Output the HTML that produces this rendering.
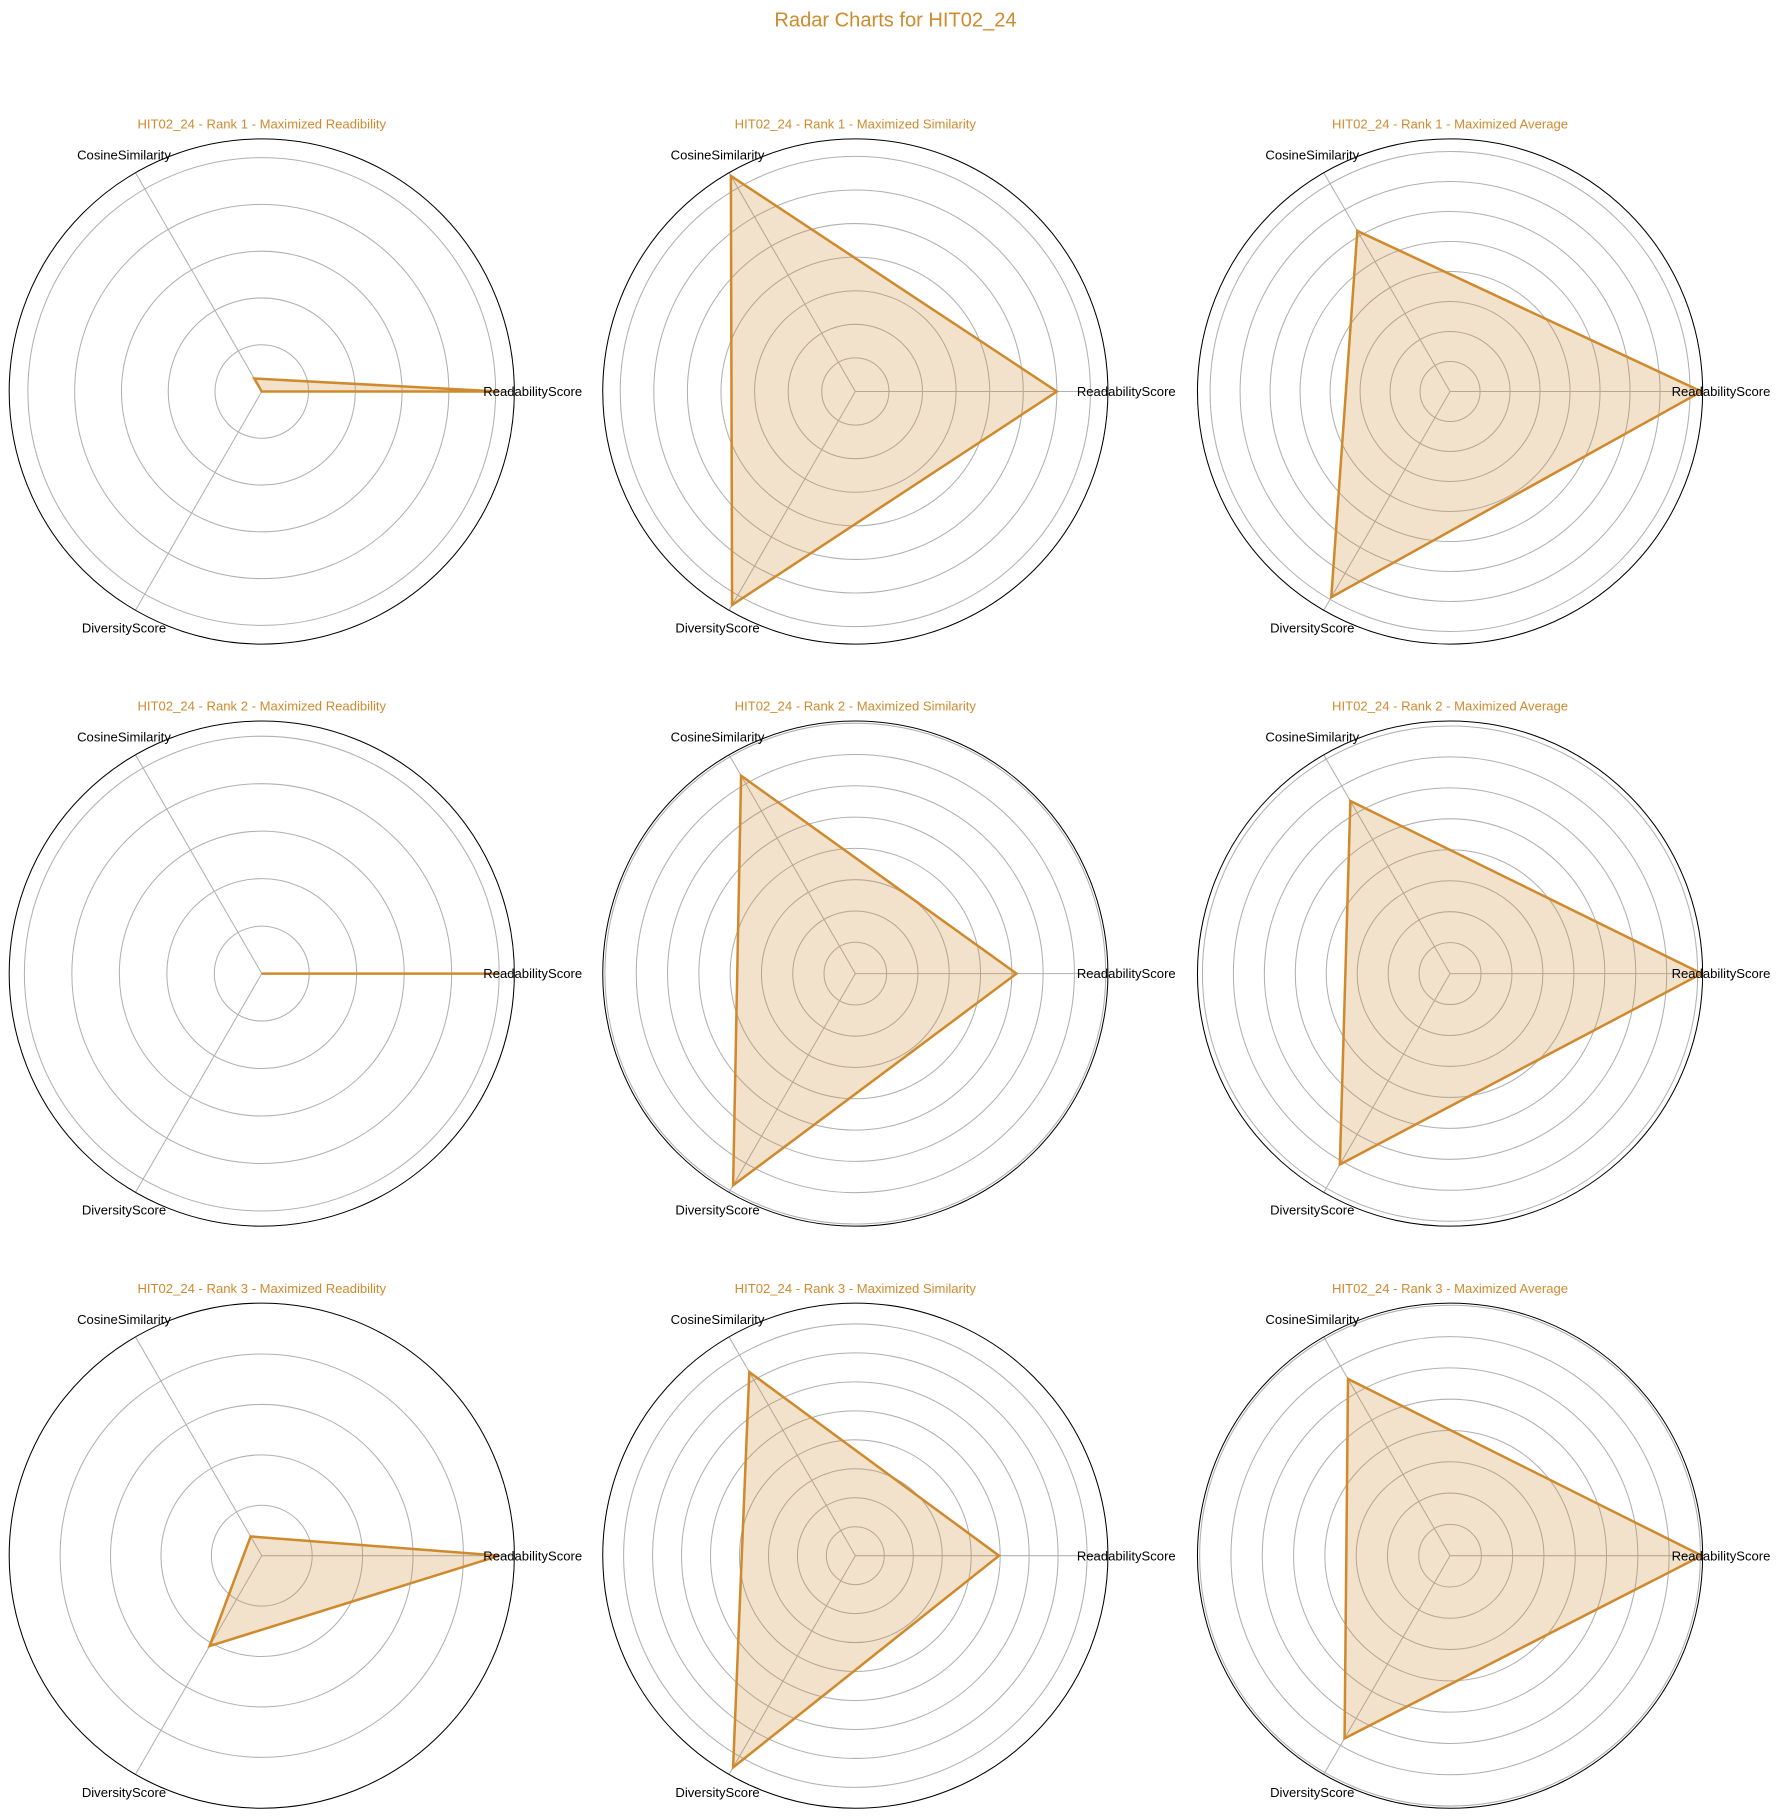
<!DOCTYPE html>
<html><head><meta charset="utf-8"><style>
body{margin:0;background:#fff;}
svg{display:block;font-family:"Liberation Sans","DejaVu Sans",sans-serif;}
</style></head><body>
<svg id="chart" width="1791" height="1818" viewBox="0 0 1791 1818" xmlns="http://www.w3.org/2000/svg">
<g id="root" transform="scale(1.1481)">
<text x="780" y="23" text-anchor="middle" font-size="17.5" fill="#D08A2E">Radar Charts for HIT02_24</text>
</g>
</svg>
<script>
const categories = ["ReadabilityScore", "CosineSimilarity", "DiversityScore"];
const chartTitles = [
 "HIT02_24 - Rank 1 - Maximized Readibility","HIT02_24 - Rank 1 - Maximized Similarity","HIT02_24 - Rank 1 - Maximized Average",
 "HIT02_24 - Rank 2 - Maximized Readibility","HIT02_24 - Rank 2 - Maximized Similarity","HIT02_24 - Rank 2 - Maximized Average",
 "HIT02_24 - Rank 3 - Maximized Readibility","HIT02_24 - Rank 3 - Maximized Similarity","HIT02_24 - Rank 3 - Maximized Average"];
const readabilityValues = [5.07, 6.0, 8.38, 5.0, 5.15, 8.13, 4.71, 4.96, 8.04];
const similarityValues  = [0.32, 7.41, 6.18, 0, 7.30, 6.44, 0.44, 7.32, 6.52];
const diversityValues   = [0, 7.34, 7.92, 0, 7.81, 7.12, 2.07, 8.44, 6.74];
const rMaxValues        = [5.40, 7.52, 8.42, 5.32, 8.07, 8.16, 5.01, 8.72, 8.07];
const ringCounts        = [5, 7, 8, 5, 8, 8, 4, 8, 8];

const NS="http://www.w3.org/2000/svg";
const root=document.getElementById('root');
const colX=[228,745,1263], rowY=[341,848,1355], R=220;
function mk(tag,attrs,parent){const e=document.createElementNS(NS,tag);for(const k in attrs)e.setAttribute(k,attrs[k]);(parent||root).appendChild(e);return e;}
const angles=[0,120,240].map(a=>a*Math.PI/180);
for(let i=0;i<9;i++){
  const cx=colX[i%3], cy=rowY[Math.floor(i/3)];
  const scale=v=>v/rMaxValues[i]*R;
  const pt=(v,k)=>[cx+scale(v)*Math.cos(angles[k]), cy-scale(v)*Math.sin(angles[k])];
  const g=mk('g',{});
  
  
  for(let r=1;r<=ringCounts[i];r++){
    const c=mk('circle',{cx:cx,cy:cy,r:scale(r),fill:'none',stroke:'#b0b0b0','stroke-width':0.9},g);
    
    
  }
  for(let k=0;k<3;k++){
    const [x,y]=pt(rMaxValues[i],k);
    const l=mk('line',{x1:cx,y1:cy,x2:x,y2:y,stroke:'#b0b0b0','stroke-width':0.9},g);
    
    
  }
  const vals=[readabilityValues[i],similarityValues[i],diversityValues[i]];
  const pts=vals.map((v,k)=>pt(v,k).join(',')).join(' ');
  const poly=mk('polygon',{points:pts,fill:'#D08A2E','fill-opacity':0.25,stroke:'#D08A2E','stroke-width':2.2,'stroke-linejoin':'miter'},g);
  
  
  const outer=mk('circle',{cx:cx,cy:cy,r:R,fill:'none',stroke:'#000','stroke-width':0.9},g);
  
  
  const labPos=[[236,0],[-120,-206],[-120,206]];
  categories.forEach((c,k)=>{
    const t=mk('text',{x:cx+labPos[k][0],y:cy+labPos[k][1]+4,'text-anchor':'middle','font-size':11.4,fill:'#000'},g);
    t.textContent=c;
    
    
  });
  const tt=mk('text',{x:cx,y:cy-229,'text-anchor':'middle','font-size':11.4,fill:'#D08A2E'},g);
  tt.textContent=chartTitles[i];
  
  
}
</script>
</body></html>
